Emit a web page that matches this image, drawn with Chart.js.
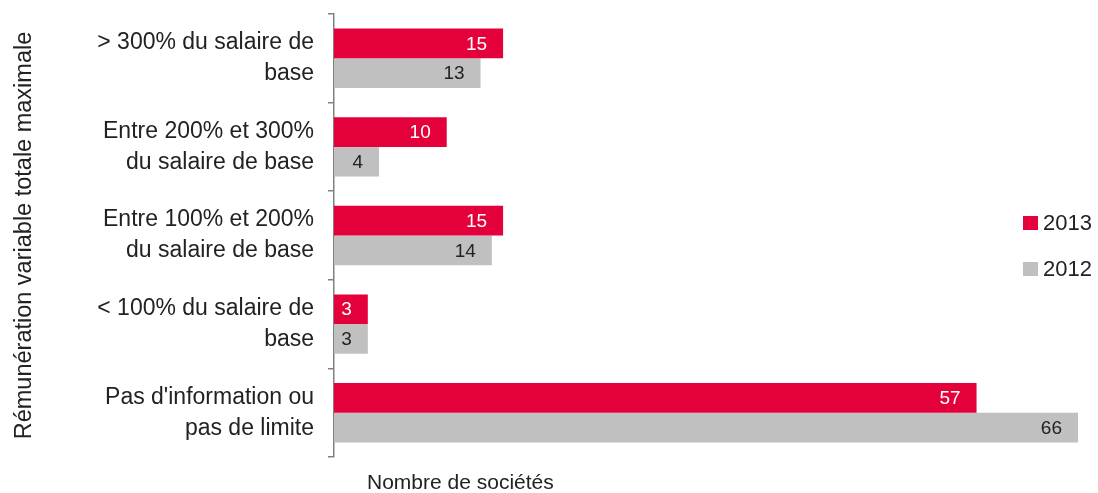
<!DOCTYPE html>
<html>
<head>
<meta charset="utf-8">
<script src="https://cdn.jsdelivr.net/npm/chart.js@4"></script>
<style>
  html, body { margin: 0; padding: 0; background: #fff; }
  #wrap { position: relative; width: 1098px; height: 493px; }
  canvas { position: absolute; left: 0; top: 0; }
  .legend { position: absolute; left: 1023px; font: 22px "Liberation Sans", Arial, sans-serif; color: #222; }
  .legend .item { position: absolute; left: 0; white-space: nowrap; display: flex; align-items: center; height: 24px; }
  .legend .sw { width: 15px; height: 14px; margin-right: 5px; display: inline-block; }
  .xtitle { position: absolute; left: 367px; top: 470px; font: 21px "Liberation Sans", Arial, sans-serif; color: #222; white-space: nowrap; }
</style>
</head>
<body>
<div id="wrap">
  <canvas id="c" width="1098" height="493"></canvas>
  <div class="legend" id="legend"></div>
  <div class="xtitle">Nombre de sociétés</div>
</div>
<script>
const categories = [
  ['> 300% du salaire de', 'base'],
  ['Entre 200% et 300%', 'du salaire de base'],
  ['Entre 100% et 200%', 'du salaire de base'],
  ['< 100% du salaire de', 'base'],
  ["Pas d'information ou", 'pas de limite']
];
const values2013 = [15, 10, 15, 3, 57];
const values2012 = [13, 4, 14, 3, 66];
const seriesNames = ['2013', '2012'];
const RED = '#e4003a';
const GREY = '#c0c0c0';
const FONT = '"Liberation Sans", Arial, sans-serif';

// Legend, sitting over the right side of the plot
const legendEl = document.getElementById('legend');
[[seriesNames[0], RED, 211], [seriesNames[1], GREY, 257]].forEach(([name, col, top]) => {
  const d = document.createElement('div');
  d.className = 'item';
  d.style.top = top + 'px';
  d.innerHTML = '<span class="sw" style="background:' + col + '"></span>' + name;
  legendEl.appendChild(d);
});

// Value labels just inside the end of each bar
const valueLabels = {
  id: 'valueLabels',
  afterDatasetsDraw(chart) {
    const ctx = chart.ctx;
    ctx.save();
    ctx.font = '19px ' + FONT;
    ctx.textAlign = 'right';
    ctx.textBaseline = 'middle';
    chart.data.datasets.forEach((ds, i) => {
      const meta = chart.getDatasetMeta(i);
      meta.data.forEach((bar, j) => {
        ctx.fillStyle = i === 0 ? '#ffffff' : '#222222';
        ctx.fillText(String(ds.data[j]), bar.x - 16, bar.y + 1);
      });
    });
    ctx.restore();
  }
};

new Chart(document.getElementById('c'), {
  type: 'bar',
  data: {
    labels: categories,
    datasets: [
      { label: seriesNames[0], data: values2013, backgroundColor: RED },
      { label: seriesNames[1], data: values2012, backgroundColor: GREY }
    ]
  },
  options: {
    indexAxis: 'y',
    responsive: false,
    animation: false,
    layout: { padding: { top: 14, right: 20, bottom: 36, left: 0 } },
    datasets: { bar: { categoryPercentage: 0.67, barPercentage: 1.0 } },
    plugins: { legend: { display: false }, tooltip: { enabled: false } },
    scales: {
      x: { display: false, min: 0, max: 66 },
      y: {
        afterFit(scale) {
          scale.width = 334;
          scale.paddingTop = 0;
          scale.paddingBottom = 0;
        },
        border: { display: true, color: '#808080', width: 1.5 },
        grid: { offset: true, drawOnChartArea: false, drawTicks: true, tickLength: 6, color: '#808080', lineWidth: 1.5 },
        ticks: {
          padding: 14,
          color: '#222',
          font: { family: FONT, size: 23, lineHeight: 1.35 }
        },
        title: {
          display: true,
          text: 'Rémunération variable totale maximale',
          color: '#222',
          font: { family: FONT, size: 23.5 },
          padding: { top: 10, bottom: 0 }
        }
      }
    }
  },
  plugins: [valueLabels]
});
</script>
</body>
</html>
